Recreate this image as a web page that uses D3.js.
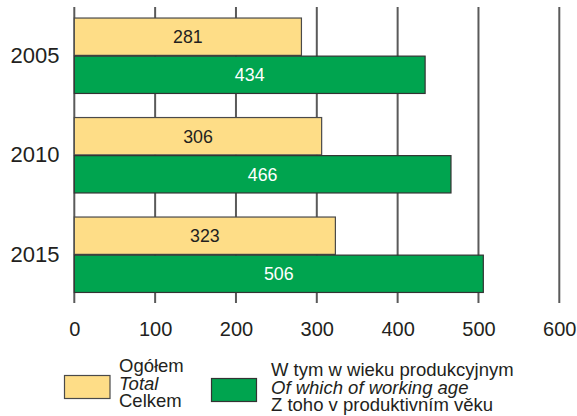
<!DOCTYPE html>
<html><head><meta charset="utf-8">
<script src="https://cdn.jsdelivr.net/npm/d3@7"></script>
<style>body{margin:0;background:#fff}svg{display:block;font-family:"Liberation Sans",Arial,sans-serif}</style>
</head><body><svg id="c" width="577" height="416"></svg>
<script>
const years = ["2005","2010","2015"];
const totalValues = [281,306,323];
const workingValues = [434,466,506];
const xTicks = [0,100,200,300,400,500,600];
const legendTotal = ["Ogółem","Total","Celkem"];
const legendWorking = ["W tym w wieku produkcyjnym","Of which of working age","Z toho v produktivním věku"];

const svg = d3.select("#c");
const x = d3.scaleLinear().domain([0,600]).range([74.3,559.3]);
const y = d3.scaleBand().domain(years).range([6,304.5]).paddingInner(0.242).paddingOuter(0.121);
const sub = d3.scaleBand().domain(["t","w"]).range([0,y.bandwidth()]).paddingInner(0.02);

// grid lines
svg.append("g").selectAll("line").data(xTicks).join("line")
  .attr("x1",d=>x(d)).attr("x2",d=>x(d)).attr("y1",7).attr("y2",303)
  .attr("stroke","#5a5a5a").attr("stroke-width",2);

// x tick labels
const ax = svg.append("g").attr("transform","translate(0,303)")
  .call(d3.axisBottom(x).tickValues(xTicks).tickSize(0).tickPadding(19));
ax.select(".domain").remove();
ax.selectAll("text").attr("font-size",20).attr("fill","#231f20").attr("font-family","Liberation Sans, Arial, sans-serif");

// y labels
const ay = svg.append("g").attr("transform","translate(74,0)")
  .call(d3.axisLeft(y).tickSize(0).tickPadding(14.5));
ay.select(".domain").remove();
ay.selectAll("text").attr("font-size",22).attr("fill","#231f20").attr("font-family","Liberation Sans, Arial, sans-serif");

const rows = years.map((yr,i)=>({yr, t:totalValues[i], w:workingValues[i]}));
const g = svg.append("g");
rows.forEach(r=>{
  const y0 = y(r.yr);
  g.append("rect").attr("x",x(0)).attr("y",y0+sub("t")).attr("width",x(r.t)-x(0)).attr("height",sub.bandwidth())
    .attr("fill","#FEDD87").attr("stroke","#4a4a4a").attr("stroke-width",1.2);
  g.append("rect").attr("x",x(0)).attr("y",y0+sub("w")).attr("width",x(r.w)-x(0)).attr("height",sub.bandwidth())
    .attr("fill","#00A44F").attr("stroke","#333").attr("stroke-width",1.2);
  g.append("text").attr("x",(x(0)+x(r.t))/2).attr("y",y0+sub("t")+sub.bandwidth()/2).attr("dy","0.36em")
    .attr("text-anchor","middle").attr("font-size",17.8).attr("fill","#231f20").text(r.t);
  g.append("text").attr("x",(x(0)+x(r.w))/2).attr("y",y0+sub("w")+sub.bandwidth()/2).attr("dy","0.36em")
    .attr("text-anchor","middle").attr("font-size",17.8).attr("fill","#fff").text(r.w);
});

// legend
const lg = svg.append("g");
lg.append("rect").attr("x",64.5).attr("y",375.5).attr("width",45.5).attr("height",23).attr("fill","#FEDD87").attr("stroke","#4a4a4a").attr("stroke-width",1.2);
lg.append("rect").attr("x",211.5).attr("y",378.5).attr("width",45).attr("height",23).attr("fill","#00A44F").attr("stroke","#333").attr("stroke-width",1.2);
legendTotal.forEach((t,i)=>{
  lg.append("text").attr("x",119).attr("y",372.3+i*17.5).attr("font-size",18.5).attr("fill","#231f20")
    .attr("font-style",i===1?"italic":"normal").text(t);
});
legendWorking.forEach((t,i)=>{
  lg.append("text").attr("x",271).attr("y",376+i*17.5).attr("font-size",18.5).attr("fill","#231f20")
    .attr("font-style",i===1?"italic":"normal").text(t);
});
</script></body></html>
